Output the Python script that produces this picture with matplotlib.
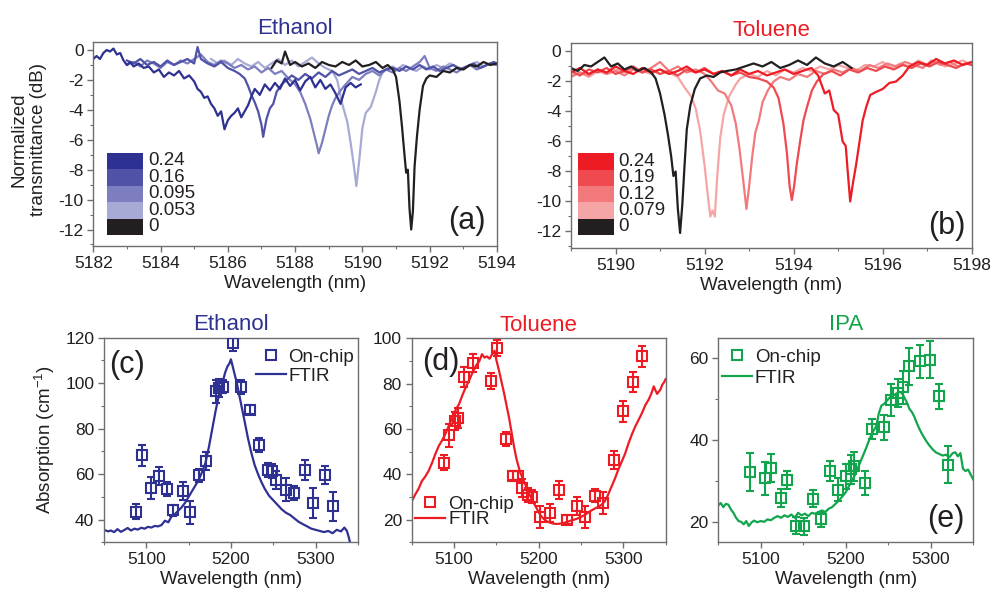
import matplotlib
matplotlib.use('Agg')
import matplotlib.pyplot as plt
from matplotlib.ticker import MultipleLocator
from matplotlib.patches import Rectangle
from matplotlib.lines import Line2D

plt.rcParams['font.family'] = ['Liberation Sans', 'DejaVu Sans']
plt.rcParams['axes.unicode_minus'] = False
plt.rcParams['mathtext.fontset'] = 'custom'
plt.rcParams['mathtext.rm'] = 'Liberation Sans'
plt.rcParams['mathtext.it'] = 'Liberation Sans:italic'
plt.rcParams['mathtext.bf'] = 'Liberation Sans:bold'

# ---------------- Panel (a): Ethanol resonance spectra ----------------
eth_labels = ['0.24', '0.16', '0.095', '0.053', '0']
eth_colors = ['#2e3192', '#4f52a6', '#7c7ebf', '#a8aad6', '#231f20']

eth_wl_024 = [5182.0, 5182.1, 5182.2, 5182.3, 5182.4, 5182.5, 5182.6, 5182.7, 5182.8, 5182.9,
              5183.0, 5183.1, 5183.2, 5183.35, 5183.5, 5183.65, 5183.8, 5183.95, 5184.1, 5184.25,
              5184.4, 5184.55, 5184.7, 5184.85, 5185.0, 5185.1, 5185.2, 5185.3, 5185.4, 5185.5,
              5185.6, 5185.7, 5185.8, 5185.9, 5186.0, 5186.1, 5186.2, 5186.3, 5186.4, 5186.5,
              5186.6, 5186.7, 5186.8, 5186.95, 5187.1, 5187.25, 5187.4, 5187.55, 5187.7, 5187.85,
              5188.0, 5188.15, 5188.3, 5188.45, 5188.6, 5188.75, 5188.9, 5189.05, 5189.2, 5189.35,
              5189.5, 5189.65, 5189.8, 5189.95]
eth_db_024 = [-0.6, -0.4, -0.6, -0.2, 0.0, -0.1, 0.1, -0.3, -0.2, -0.7,
              -1.0, -0.8, -1.1, -0.9, -1.2, -1.1, -1.5, -1.3, -1.8, -1.5,
              -1.7, -1.4, -1.9, -1.7, -2.1, -2.6, -2.8, -3.2, -3.1, -3.6,
              -3.9, -4.4, -4.1, -5.3, -4.7, -4.4, -4.2, -3.9, -4.5, -4.1,
              -3.7, -3.1, -2.6, -3.0, -2.3, -2.7, -2.2, -2.6, -1.9, -2.4,
              -2.0, -2.7, -2.1, -1.8, -2.5, -2.0, -2.6, -2.3, -2.9, -3.6,
              -2.5, -2.2, -2.5, -2.3]

eth_wl_016 = [5183.0, 5183.2, 5183.4, 5183.6, 5183.8, 5184.0, 5184.2, 5184.4, 5184.6, 5184.8,
              5185.0, 5185.1, 5185.2, 5185.4, 5185.6, 5185.8, 5186.0, 5186.2, 5186.35, 5186.5,
              5186.6, 5186.7, 5186.8, 5186.9, 5187.0, 5187.05, 5187.15, 5187.25, 5187.35, 5187.45,
              5187.6, 5187.75, 5187.9, 5188.1, 5188.3, 5188.5, 5188.7, 5188.9, 5189.1, 5189.3,
              5189.5, 5189.7, 5189.9, 5190.1, 5190.3, 5190.5, 5190.7, 5190.9, 5191.1, 5191.3,
              5191.5, 5191.7, 5191.9, 5192.1, 5192.3, 5192.5, 5192.7, 5192.9, 5193.1, 5193.3,
              5193.5, 5193.7, 5193.9, 5194.0]
eth_db_016 = [-0.7, -0.9, -0.6, -1.0, -0.8, -1.1, -0.7, -1.0, -0.8, -0.6,
              -0.9, 0.2, -0.6, -0.9, -1.1, -0.8, -1.2, -1.4, -1.6, -1.9,
              -2.4, -3.0, -3.5, -4.1, -5.0, -5.8, -4.6, -3.9, -3.6, -2.8,
              -2.3, -2.0, -1.7, -2.0, -1.6, -1.9, -1.5, -1.8, -1.4, -1.7,
              -1.5, -1.3, -1.6, -1.4, -1.2, -1.5, -1.3, -1.2, -1.4, -1.1,
              -1.3, -1.0, -1.3, -1.1, -1.4, -1.2, -1.0, -1.3, -1.1, -0.9,
              -1.2, -1.0, -0.8, -0.9]

eth_wl_0095 = [5183.0, 5183.2, 5183.4, 5183.6, 5183.8, 5184.0, 5184.2, 5184.4, 5184.6, 5184.8,
               5185.0, 5185.2, 5185.4, 5185.6, 5185.8, 5186.0, 5186.2, 5186.4, 5186.6, 5186.8,
               5187.0, 5187.2, 5187.4, 5187.6, 5187.8, 5188.0, 5188.15, 5188.3, 5188.45, 5188.55,
               5188.65, 5188.7, 5188.8, 5188.9, 5189.0, 5189.1, 5189.2, 5189.35, 5189.5, 5189.7,
               5189.9, 5190.1, 5190.3, 5190.5, 5190.7, 5190.9, 5191.1, 5191.3, 5191.5, 5191.7,
               5191.85, 5192.0, 5192.2, 5192.4, 5192.6, 5192.8, 5193.0, 5193.2, 5193.4, 5193.6,
               5193.8, 5194.0]
eth_db_0095 = [-1.0, -0.8, -1.1, -0.7, -0.9, -1.2, -0.8, -1.0, -0.7, -0.9,
               -0.6, -0.3, -0.8, -1.0, -0.7, -0.9, -1.2, -1.0, -1.3, -1.1,
               -1.5, -1.2, -1.6, -1.4, -1.9, -2.3, -2.8, -3.6, -4.6, -5.5,
               -6.4, -6.9, -6.2, -5.3, -4.4, -3.7, -3.2, -2.7, -2.3, -1.8,
               -2.0, -1.6, -1.4, -1.7, -1.3, -1.5, -1.2, -1.4, -1.1, -0.8,
               -0.4, -1.2, -1.4, -1.1, -1.3, -1.5, -1.2, -1.0, -1.3, -1.1,
               -0.9, -1.0]

eth_wl_0053 = [5185.5, 5185.7, 5185.9, 5186.1, 5186.3, 5186.5, 5186.7, 5186.9, 5187.1, 5187.3,
               5187.5, 5187.7, 5187.9, 5188.1, 5188.3, 5188.5, 5188.7, 5188.9, 5189.1, 5189.25,
               5189.4, 5189.55, 5189.65, 5189.75, 5189.82, 5189.9, 5190.0, 5190.1, 5190.25, 5190.4,
               5190.5, 5190.6, 5190.75, 5190.9, 5191.05, 5191.2, 5191.4, 5191.6, 5191.8, 5192.0,
               5192.2, 5192.4, 5192.6, 5192.8, 5193.0, 5193.2, 5193.4, 5193.6, 5193.8, 5194.0]
eth_db_0053 = [-0.6, -0.9, -0.7, -1.0, -0.6, -0.9, -1.1, -0.8, -1.2, -0.9,
               -0.6, -1.0, -0.7, -1.1, -0.8, -0.5, -0.9, -1.2, -1.4, -2.0,
               -3.6, -4.8, -6.2, -7.8, -9.1, -7.5, -5.2, -4.2, -3.8, -2.8,
               -2.0, -1.5, -1.2, -1.1, -1.3, -1.0, -1.2, -1.4, -1.1, -1.3,
               -1.0, -1.2, -0.9, -1.1, -1.3, -1.0, -0.8, -1.1, -0.9, -1.0]

eth_wl_0 = [5187.3, 5187.45, 5187.6, 5187.7, 5187.85, 5188.0, 5188.2, 5188.4, 5188.6, 5188.8,
            5189.0, 5189.2, 5189.4, 5189.6, 5189.8, 5190.0, 5190.2, 5190.4, 5190.6, 5190.75,
            5190.9, 5191.0, 5191.1, 5191.18, 5191.25, 5191.3, 5191.35, 5191.4, 5191.45, 5191.5,
            5191.55, 5191.62, 5191.7, 5191.8, 5191.9, 5192.0, 5192.2, 5192.4, 5192.6, 5192.8,
            5193.0, 5193.2, 5193.4, 5193.6, 5193.8, 5194.0]
eth_db_0 = [-1.2, -0.7, -0.9, -0.1, -1.0, -0.8, -1.1, -0.9, -1.2, -0.8,
            -1.0, -1.1, -0.8, -1.0, -0.7, -1.1, -1.0, -0.8, -1.2, -1.0,
            -1.3, -1.8, -3.4, -5.2, -7.0, -8.2, -8.0, -10.6, -12.0, -10.8,
            -7.8, -5.8, -4.0, -2.4, -1.9, -1.7, -1.8, -1.4, -1.5, -1.2,
            -1.3, -1.0, -1.1, -0.8, -1.0, -0.9]

# ---------------- Panel (b): Toluene resonance spectra ----------------
tol_labels = ['0.24', '0.19', '0.12', '0.079', '0']
tol_colors = ['#ed1c24', '#ef4a50', '#f27a7c', '#f6a5a6', '#231f20']

tol_wl_024 = [5189.0, 5189.2, 5189.4, 5189.6, 5189.8, 5190.0, 5190.2, 5190.4, 5190.6, 5190.8,
              5191.0, 5191.2, 5191.4, 5191.6, 5191.8, 5192.0, 5192.2, 5192.4, 5192.6, 5192.8,
              5193.0, 5193.2, 5193.4, 5193.6, 5193.8, 5194.0, 5194.2, 5194.4, 5194.55, 5194.7,
              5194.8, 5194.9, 5195.0, 5195.1, 5195.17, 5195.22, 5195.27, 5195.33, 5195.4, 5195.48,
              5195.55, 5195.63, 5195.72, 5195.85, 5196.0, 5196.15, 5196.3, 5196.45, 5196.6, 5196.8,
              5197.0, 5197.2, 5197.4, 5197.6, 5197.8, 5198.0]
tol_db_024 = [-1.4, -1.1, -1.5, -1.2, -1.4, -1.0, -1.3, -1.5, -1.1, -1.4,
              -1.2, -1.5, -1.3, -1.0, -1.4, -1.2, -1.5, -1.3, -1.6, -1.2,
              -1.5, -1.3, -1.6, -1.4, -1.2, -1.5, -1.3, -1.1, -1.6, -2.8,
              -2.6, -3.9, -4.2, -6.0, -6.3, -8.2, -10.0, -8.8, -7.6, -6.0,
              -4.6, -3.7, -2.9, -2.7, -2.5, -2.1, -2.0, -1.6, -1.0, -0.7,
              -0.9, -0.5, -0.8, -0.6, -0.9, -0.7]

tol_wl_019 = [5189.0, 5189.2, 5189.4, 5189.6, 5189.8, 5190.0, 5190.2, 5190.4, 5190.6, 5190.8,
              5191.0, 5191.2, 5191.4, 5191.6, 5191.8, 5192.0, 5192.2, 5192.4, 5192.6, 5192.8,
              5193.0, 5193.2, 5193.4, 5193.55, 5193.66, 5193.77, 5193.85, 5193.91, 5193.96, 5194.01,
              5194.07, 5194.15, 5194.22, 5194.3, 5194.41, 5194.52, 5194.67, 5194.85, 5195.05, 5195.25,
              5195.45, 5195.65, 5195.85, 5196.05, 5196.25, 5196.45, 5196.65, 5196.85, 5197.05, 5197.25,
              5197.45, 5197.65, 5197.85, 5198.0]
tol_db_019 = [-1.3, -1.6, -1.2, -1.4, -1.1, -1.5, -1.3, -1.0, -1.4, -1.2,
              -1.5, -1.3, -1.6, -1.2, -1.4, -1.1, -1.5, -1.3, -1.6, -1.4,
              -1.7, -1.8, -2.0, -2.4, -3.1, -4.8, -6.8, -9.0, -9.9, -9.0,
              -7.5, -5.9, -4.6, -3.7, -2.6, -2.0, -1.5, -1.3, -1.6, -1.2,
              -1.4, -1.1, -1.3, -1.0, -1.2, -0.9, -1.1, -0.8, -1.0, -0.7,
              -0.9, -1.1, -0.8, -0.9]

tol_wl_012 = [5189.0, 5189.2, 5189.4, 5189.6, 5189.8, 5190.0, 5190.2, 5190.4, 5190.6, 5190.8,
              5191.0, 5191.2, 5191.4, 5191.6, 5191.8, 5192.0, 5192.15, 5192.3, 5192.45, 5192.6,
              5192.7, 5192.78, 5192.86, 5192.94, 5193.0, 5193.07, 5193.14, 5193.22, 5193.3, 5193.42,
              5193.55, 5193.7, 5193.9, 5194.1, 5194.3, 5194.5, 5194.7, 5194.9, 5195.1, 5195.3,
              5195.5, 5195.7, 5195.9, 5196.1, 5196.3, 5196.5, 5196.7, 5196.9, 5197.1, 5197.3,
              5197.5, 5197.7, 5197.9, 5198.0]
tol_db_012 = [-1.7, -1.4, -1.6, -1.2, -1.5, -1.3, -1.6, -1.2, -1.4, -1.1,
              -0.7, -1.3, -1.0, -1.4, -1.2, -1.5, -2.0, -2.6, -2.8, -3.6,
              -4.8, -6.4, -8.4, -10.5, -9.0, -7.0, -5.4, -4.6, -3.4, -2.6,
              -2.0, -1.7, -1.9, -1.5, -1.7, -1.3, -1.5, -1.2, -1.4, -1.1,
              -1.3, -0.9, -1.1, -0.8, -1.0, -0.7, -0.9, -1.1, -0.6, -0.9,
              -0.7, -1.0, -0.8, -0.7]

tol_wl_0079 = [5189.0, 5189.2, 5189.4, 5189.6, 5189.8, 5190.0, 5190.2, 5190.4, 5190.6, 5190.8,
               5191.0, 5191.2, 5191.4, 5191.55, 5191.7, 5191.8, 5191.9, 5192.0, 5192.08, 5192.13,
               5192.18, 5192.23, 5192.28, 5192.35, 5192.43, 5192.55, 5192.7, 5192.8, 5193.0, 5193.2,
               5193.4, 5193.6, 5193.8, 5194.0, 5194.2, 5194.4, 5194.6, 5194.8, 5195.0, 5195.2,
               5195.4, 5195.6, 5195.8, 5196.0, 5196.2, 5196.4, 5196.6, 5196.8, 5197.0, 5197.2,
               5197.4, 5197.6, 5197.8, 5198.0]
tol_db_0079 = [-1.6, -1.4, -1.7, -1.3, -1.5, -1.2, -1.4, -1.1, -1.3, -1.5,
               -1.2, -1.4, -1.7, -2.4, -3.0, -3.8, -5.3, -7.6, -9.8, -11.0,
               -10.6, -11.0, -8.5, -5.8, -4.2, -3.0, -2.2, -1.8, -1.5, -1.7,
               -1.3, -1.6, -1.2, -1.4, -1.1, -1.3, -1.0, -1.2, -0.9, -1.1,
               -1.3, -0.9, -1.0, -0.7, -1.1, -0.8, -1.0, -0.6, -0.9, -0.7,
               -1.0, -0.8, -0.6, -0.9]

tol_wl_0 = [5189.0, 5189.15, 5189.3, 5189.45, 5189.6, 5189.75, 5189.9, 5190.05, 5190.2, 5190.35,
            5190.5, 5190.65, 5190.8, 5190.9, 5191.0, 5191.1, 5191.18, 5191.25, 5191.3, 5191.35,
            5191.4, 5191.45, 5191.5, 5191.55, 5191.6, 5191.68, 5191.78, 5191.9, 5192.05, 5192.2,
            5192.35, 5192.5, 5192.7, 5192.9, 5193.1, 5193.3, 5193.5, 5193.7, 5193.9, 5194.1,
            5194.3, 5194.5, 5194.7, 5194.9, 5195.1, 5195.3]
tol_db_0 = [-1.1, -1.3, -0.9, -1.0, -0.7, -0.4, -1.0, -0.8, -1.2, -1.0,
            -1.3, -1.1, -1.4, -1.8, -2.8, -4.2, -5.6, -7.0, -8.3, -8.0,
            -10.5, -12.1, -10.2, -7.6, -5.2, -3.6, -2.5, -1.8, -1.6, -1.7,
            -1.4, -1.3, -1.2, -1.0, -0.8, -1.0, -0.7, -1.1, -0.9, -0.6,
            -0.9, -0.4, -0.8, -1.0, -0.7, -1.1]

# ---------------- Panel (c): Ethanol absorption ----------------
c_wl = [5088, 5095, 5106, 5115, 5125, 5132, 5143, 5152, 5162, 5171,
        5182, 5186, 5191, 5203, 5212, 5223, 5233, 5244, 5248, 5253,
        5265, 5274, 5288, 5297, 5311, 5320]
c_abs = [43.4, 68.2, 53.9, 59.3, 53.4, 44.1, 52.4, 43.2, 59.4, 65.6,
         96.5, 98.0, 98.5, 117.8, 98.2, 88.3, 72.8, 61.9, 61.5, 57.5,
         53.2, 51.7, 61.9, 47.3, 59.7, 45.8]
c_err = [3.3, 4.8, 5.0, 4.0, 3.0, 2.5, 4.0, 5.0, 3.0, 4.0,
         5.0, 4.0, 3.0, 3.5, 3.0, 2.0, 3.0, 3.0, 3.0, 4.0,
         5.0, 3.0, 4.5, 6.5, 4.0, 6.5]
fc_wl = [5050, 5055, 5058, 5062, 5066, 5070, 5074, 5078, 5082, 5086,
         5090, 5094, 5098, 5102, 5106, 5110, 5114, 5118, 5122, 5126,
         5130, 5134, 5138, 5142, 5146, 5150, 5154, 5158, 5162, 5166,
         5170, 5174, 5178, 5182, 5186, 5190, 5193, 5196, 5198, 5200,
         5202, 5204, 5207, 5210, 5213, 5216, 5220, 5224, 5228, 5232,
         5236, 5240, 5245, 5250, 5255, 5260, 5265, 5270, 5275, 5280,
         5285, 5290, 5295, 5300, 5305, 5310, 5315, 5320, 5325, 5330,
         5334, 5337, 5339, 5341]
fc_abs = [35.5, 34.8, 35.2, 34.5, 35.8, 34.6, 35.4, 36.3, 35.2, 36.0,
          35.6, 36.4, 36.0, 36.8, 36.5, 37.2, 37.0, 37.6, 39.5, 38.8,
          41.5, 42.5, 44.0, 45.5, 47.5, 50.0, 52.5, 55.0, 57.5, 61.0,
          65.0, 72.0, 80.0, 88.0, 95.0, 100.0, 104.5, 107.5, 108.5, 110.5,
          107.5, 104.5, 100.0, 94.5, 89.0, 83.5, 76.0, 69.5, 64.0, 60.0,
          56.5, 53.5, 50.5, 48.5, 46.5, 44.5, 43.0, 42.0, 40.5, 39.0,
          38.0, 37.0, 36.0, 35.5, 35.0, 34.5, 35.0, 34.0, 35.5, 34.8,
          36.5, 35.0, 32.5, 29.5]

# ---------------- Panel (d): Toluene absorption ----------------
d_wl = [5088.5, 5094.5, 5101, 5105, 5112, 5123, 5143.5, 5150.6, 5161, 5170,
        5176, 5180, 5188, 5192, 5202, 5213, 5224, 5233, 5245, 5254.5,
        5266.5, 5276, 5289, 5299.6, 5311, 5322]
d_abs = [45.2, 57.2, 63.5, 64.9, 82.9, 89.0, 81.0, 95.9, 55.7, 39.3,
         39.3, 33.9, 31.0, 30.2, 21.1, 22.8, 33.2, 19.9, 25.9, 21.1,
         30.6, 27.3, 46.3, 67.8, 80.7, 92.0]
d_err = [3.5, 5.0, 4.0, 4.5, 4.5, 4.0, 3.5, 3.5, 3.0, 2.0,
         2.0, 4.0, 3.0, 3.0, 5.0, 4.0, 4.0, 2.0, 4.0, 5.0,
         3.0, 5.0, 4.0, 4.5, 4.5, 4.5]
fd_wl = [5050, 5054, 5058, 5062, 5066, 5070, 5074, 5078, 5082, 5086,
         5090, 5094, 5098, 5102, 5106, 5110, 5114, 5118, 5122, 5126,
         5130, 5133, 5136, 5139, 5142, 5145, 5148, 5150, 5153, 5156,
         5159, 5162, 5165, 5168, 5171, 5174, 5178, 5182, 5186, 5190,
         5194, 5198, 5202, 5206, 5210, 5214, 5218, 5222, 5226, 5230,
         5234, 5238, 5242, 5246, 5250, 5254, 5258, 5262, 5266, 5270,
         5274, 5278, 5282, 5286, 5290, 5294, 5298, 5302, 5306, 5310,
         5314, 5318, 5322, 5326, 5330, 5333, 5336, 5338, 5340, 5342,
         5344, 5346, 5348, 5350]
fd_abs = [28, 31, 33.5, 37, 39, 41.5, 45, 49, 52.5, 55,
          58, 61.5, 65, 68.5, 71, 75, 78.5, 81.5, 85, 88,
          90, 93, 91.5, 92, 91, 93, 94.5, 90.5, 86, 81,
          76, 70.5, 65, 58.5, 52, 46.5, 41, 37.5, 34, 30.5,
          27.5, 24.7, 22, 20.3, 19.2, 18.6, 18.2, 18.1, 18.3, 18.6,
          19.0, 19.6, 20.0, 20.5, 21.2, 22.0, 23.0, 24.0, 24.8, 25.6,
          26.5, 28, 31, 34.5, 38, 42, 45.5, 49, 53.5, 57.5,
          61, 64, 67, 70.5, 73, 75.5, 78.8, 77, 75.5, 76.5,
          77.5, 79.5, 80.5, 82]

# ---------------- Panel (e): IPA absorption ----------------
e_wl = [5087.4, 5105, 5112, 5123.6, 5131.5, 5141, 5151, 5161, 5171, 5182,
        5190.5, 5200.4, 5206, 5210, 5223, 5231, 5245, 5253, 5261, 5267,
        5274, 5287, 5299, 5310, 5320]
e_abs = [32.2, 30.6, 33.2, 25.9, 30.3, 19.1, 18.9, 25.7, 20.6, 32.4,
         27.9, 31.1, 32.8, 33.6, 29.5, 42.7, 43.1, 49.8, 51.5, 52.9,
         58.0, 59.2, 59.6, 50.7, 34.0]
e_err = [4.7, 4.0, 3.5, 2.2, 2.2, 2.0, 2.0, 2.0, 1.8, 2.5,
         2.7, 3.0, 3.5, 3.5, 3.0, 2.5, 3.0, 4.0, 3.5, 4.0,
         4.5, 4.0, 4.5, 3.0, 4.5]
fe_wl = [5050, 5053, 5056, 5059, 5062, 5065, 5068, 5071, 5074, 5077,
         5080, 5083, 5086, 5089, 5092, 5096, 5100, 5104, 5108, 5112,
         5116, 5120, 5124, 5128, 5132, 5136, 5140, 5144, 5148, 5152,
         5156, 5160, 5164, 5168, 5172, 5176, 5180, 5184, 5188, 5192,
         5196, 5200, 5204, 5208, 5212, 5216, 5220, 5224, 5228, 5232,
         5236, 5239, 5242, 5245, 5248, 5251, 5254, 5257, 5260, 5263,
         5266, 5269, 5272, 5275, 5278, 5281, 5284, 5287, 5290, 5294,
         5298, 5302, 5306, 5310, 5314, 5318, 5322, 5326, 5329, 5332,
         5335, 5338, 5341, 5344, 5347, 5350]
fe_abs = [24.0, 24.6, 23.6, 24.4, 24.2, 23.0, 22.2, 21.0, 20.2, 20.0,
          19.4, 20.2, 19.0, 19.8, 20.3, 19.9, 20.2, 20.0, 20.6, 20.4,
          21.0, 21.4, 21.0, 21.6, 21.2, 21.8, 21.0, 22.2, 21.6, 22.0,
          21.4, 22.2, 22.0, 22.4, 22.8, 22.4, 23.2, 23.6, 24.4, 25.2,
          26.2, 27.2, 28.8, 30.2, 32.0, 34.0, 36.0, 38.0, 40.2, 42.0,
          43.4, 46.5, 48.4, 48.8, 49.5, 50.2, 50.8, 51.0, 51.4, 51.8,
          51.5, 50.4, 49.2, 47.6, 46.8, 45.6, 44.0, 42.6, 41.4, 40.0,
          38.8, 37.8, 37.0, 36.6, 36.2, 36.4, 35.8, 36.8, 37.0, 36.0,
          36.8, 33.0, 32.4, 32.8, 31.6, 30.4]

BLUE = '#2e3192'
RED = '#ed1c24'
GREEN = '#13a54e'
TXT = '#231f20'
SPINE = '#6d6e71'


def same_len(a, b, *more):
    n = min([len(a), len(b)] + [len(m) for m in more])
    out = [a[:n], b[:n]] + [m[:n] for m in more]
    return out


def style(ax, xmaj, xmin, ymaj, ymin):
    for sp in ax.spines.values():
        sp.set_color(SPINE)
        sp.set_linewidth(1.0)
    ax.xaxis.set_major_locator(MultipleLocator(xmaj))
    ax.xaxis.set_minor_locator(MultipleLocator(xmin))
    ax.yaxis.set_major_locator(MultipleLocator(ymaj))
    ax.yaxis.set_minor_locator(MultipleLocator(ymin))
    ax.tick_params(which='both', direction='out', colors=SPINE, labelcolor=TXT,
                   labelsize=12.5, top=False, right=False)
    ax.tick_params(which='major', length=4, width=1.0, pad=3)
    ax.tick_params(which='minor', length=2.5, width=0.8)
    ax.set_xlabel('Wavelength (nm)', fontsize=13.5, color=TXT, labelpad=3)


fig = plt.figure(figsize=(9.92, 5.97), dpi=100)

ax_a = fig.add_axes([0.094, 0.588, 0.407, 0.342])
ax_b = fig.add_axes([0.5756, 0.5846, 0.404, 0.343])
ax_c = fig.add_axes([0.1048, 0.0916, 0.256, 0.3427])
ax_d = fig.add_axes([0.415, 0.0916, 0.256, 0.3417])
ax_e = fig.add_axes([0.724, 0.0916, 0.257, 0.3427])

# ---- (a)
eth_series = [(eth_wl_024, eth_db_024), (eth_wl_016, eth_db_016), (eth_wl_0095, eth_db_0095),
              (eth_wl_0053, eth_db_0053), (eth_wl_0, eth_db_0)]
for idx in [3, 2, 1, 0, 4]:
    w, d = same_len(*eth_series[idx])
    ax_a.plot(w, d, color=eth_colors[idx], lw=1.6)
ax_a.set_xlim(5182, 5194)
ax_a.set_ylim(-13.1, 0.55)
style(ax_a, 2, 1, 2, 1)
ax_a.set_title('Ethanol', color=BLUE, fontsize=16, pad=5.5)
ax_a.text(-0.16, 0.52, 'Normalized\ntransmittance (dB)', transform=ax_a.transAxes,
          rotation=90, ha='center', va='center', fontsize=13.5, color=TXT, linespacing=1.15)
blk_h = (0.457 - 0.053) / 5
for i, (lab, col) in enumerate(zip(eth_labels, eth_colors)):
    y0 = 0.457 - (i + 1) * blk_h
    ax_a.add_patch(Rectangle((0.034, y0), 0.088, blk_h, transform=ax_a.transAxes,
                             facecolor=col, edgecolor='none'))
    ax_a.text(0.136, y0 + blk_h / 2, lab, transform=ax_a.transAxes, ha='left', va='center',
              fontsize=13.5, color=TXT)
ax_a.text(0.926, 0.123, '(a)', transform=ax_a.transAxes, ha='center', va='center',
          fontsize=22, color=TXT)

# ---- (b)
tol_series = [(tol_wl_024, tol_db_024), (tol_wl_019, tol_db_019), (tol_wl_012, tol_db_012),
              (tol_wl_0079, tol_db_0079), (tol_wl_0, tol_db_0)]
for idx in [3, 2, 1, 0, 4]:
    w, d = same_len(*tol_series[idx])
    ax_b.plot(w, d, color=tol_colors[idx], lw=1.6)
ax_b.set_xlim(5189, 5198)
ax_b.set_ylim(-13.1, 0.55)
style(ax_b, 2, 1, 2, 1)
ax_b.set_title('Toluene', color=RED, fontsize=16, pad=5.5)
blk_h = (0.462 - 0.063) / 5
for i, (lab, col) in enumerate(zip(tol_labels, tol_colors)):
    y0 = 0.462 - (i + 1) * blk_h
    ax_b.add_patch(Rectangle((0.018, y0), 0.089, blk_h, transform=ax_b.transAxes,
                             facecolor=col, edgecolor='none'))
    ax_b.text(0.118, y0 + blk_h / 2, lab, transform=ax_b.transAxes, ha='left', va='center',
              fontsize=13.5, color=TXT)
ax_b.text(0.938, 0.107, '(b)', transform=ax_b.transAxes, ha='center', va='center',
          fontsize=22, color=TXT)


def absorption_panel(ax, wl, ab, er, fwl, fab, color, title, ylim, ymaj, letter, lpos,
                     legloc, legbbox, lspace):
    wl, ab, er = same_len(wl, ab, er)
    fwl, fab = same_len(fwl, fab)
    ax.plot(fwl, fab, color=color, lw=1.6, zorder=2)
    ax.errorbar(wl, ab, yerr=er, fmt='s', mfc='none', mec=color, ecolor=color, ms=7,
                mew=1.5, elinewidth=1.5, capsize=3, capthick=1.5, zorder=3)
    ax.set_xlim(5050, 5350)
    ax.set_ylim(*ylim)
    style(ax, 100, 50, ymaj, 10)
    ax.set_title(title, color=color, fontsize=16, pad=5.5)
    ax.text(lpos[0], lpos[1], letter, transform=ax.transAxes, ha='center', va='center',
            fontsize=22, color=TXT)
    handles = [Line2D([], [], ls='none', marker='s', mfc='none', mec=color, ms=7, mew=1.5),
               Line2D([], [], color=color, lw=1.6)]
    leg = ax.legend(handles, ['On-chip', 'FTIR'], loc=legloc, bbox_to_anchor=legbbox,
                    frameon=False, fontsize=13.5, handlelength=1.6, handletextpad=0.15,
                    labelspacing=lspace, borderaxespad=0.0, borderpad=0.2)
    for t in leg.get_texts():
        t.set_color(TXT)


absorption_panel(ax_c, c_wl, c_abs, c_err, fc_wl, fc_abs, BLUE, 'Ethanol', (30, 120), 20,
                 '(c)', (0.089, 0.867), 'upper right', (1.0, 0.965), 0.1)
ax_c.set_ylabel('Absorption (cm$^{-1}$)', fontsize=13.5, color=TXT, labelpad=6)

absorption_panel(ax_d, d_wl, d_abs, d_err, fd_wl, fd_abs, RED, 'Toluene', (10, 100), 20,
                 '(d)', (0.115, 0.885), 'lower left', (0.0, 0.05), -0.08)

absorption_panel(ax_e, e_wl, e_abs, e_err, fe_wl, fe_abs, GREEN, 'IPA', (15, 65), 20,
                 '(e)', (0.893, 0.114), 'upper left', (0.0, 0.965), 0.22)

fig.savefig('out.png', dpi=100)
